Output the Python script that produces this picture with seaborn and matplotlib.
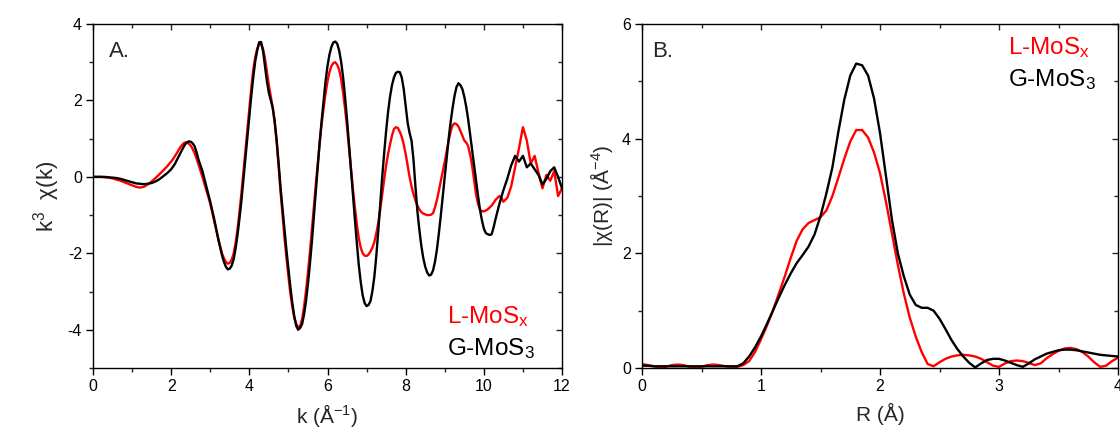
import numpy as np
import pandas as pd
import matplotlib
matplotlib.use("Agg")
import matplotlib.pyplot as plt
from matplotlib.ticker import MultipleLocator
import seaborn as sns

# ---- data ----
# sample positions in k: coarse at the ends, finer through the oscillations
k_vals = ([round(0.1 * i, 2) for i in range(20)]
          + [round(2.0 + 0.05 * i, 2) for i in range(171)]
          + [round(10.6 + 0.1 * i, 2) for i in range(15)])

k3chi_G = [
    0.00, 0.00, 0.00, 0.00, -0.01, -0.02, -0.03, -0.05, -0.08, -0.11,
    -0.14, -0.17, -0.18, -0.19, -0.18, -0.16, -0.12, -0.06, 0.02, 0.10,
    # 2.00 .. 10.50 step 0.05
    0.20, 0.27, 0.35, 0.45, 0.55, 0.65, 0.75, 0.84, 0.90, 0.93,
    0.92, 0.88, 0.80, 0.64, 0.45, 0.30, 0.15, -0.05, -0.25, -0.45,
    -0.65, -0.87, -1.10, -1.35, -1.60, -1.83, -2.05, -2.22, -2.35, -2.42,
    -2.40, -2.32, -2.15, -1.86, -1.50, -1.07, -0.60, -0.05, 0.50, 1.05,
    1.60, 2.12, 2.60, 3.02, 3.30, 3.52, 3.53, 3.30, 2.90, 2.50,
    2.20, 2.00, 1.80, 1.45, 0.95, 0.35, -0.30, -0.85, -1.40, -1.92,
    -2.40, -2.88, -3.30, -3.65, -3.90, -4.00, -3.95, -3.85, -3.60, -3.25,
    -2.80, -2.28, -1.70, -1.05, -0.40, 0.25, 0.90, 1.47, 2.00, 2.50,
    2.90, 3.20, 3.40, 3.52, 3.54, 3.48, 3.30, 3.00, 2.60, 2.08,
    1.50, 0.86, 0.20, -0.46, -1.10, -1.72, -2.30, -2.75, -3.10, -3.30,
    -3.38, -3.35, -3.25, -2.98, -2.60, -2.05, -1.40, -0.70, 0.00, 0.62,
    1.20, 1.70, 2.10, 2.40, 2.60, 2.72, 2.75, 2.74, 2.60, 2.30,
    1.85, 1.42, 1.15, 0.95, 0.45, -0.25, -0.90, -1.38, -1.80, -2.12,
    -2.35, -2.50, -2.58, -2.56, -2.45, -2.22, -1.90, -1.47, -1.00, -0.50,
    0.00, 0.50, 1.00, 1.43, 1.80, 2.12, 2.35, 2.45, 2.40, 2.30,
    2.10, 1.83, 1.50, 1.10, 0.70, 0.30, -0.10, -0.48, -0.85, -1.13,
    -1.35, -1.47, -1.50, -1.52, -1.50, -1.32, -1.10, -0.90, -0.70, -0.52,
    -0.35,
    # 10.6 .. 12.0 step 0.1
    -0.05, 0.30, 0.55, 0.40, 0.55, 0.25, 0.35, 0.20, 0.05, -0.20,
    -0.05, 0.15, 0.25, 0.00, -0.30]

k3chi_L = [
    0.00, 0.00, 0.00, -0.01, -0.02, -0.04, -0.07, -0.10, -0.14, -0.18,
    -0.22, -0.26, -0.28, -0.26, -0.20, -0.12, -0.03, 0.07, 0.17, 0.28,
    # 2.00 .. 10.50 step 0.05
    0.40, 0.47, 0.55, 0.63, 0.72, 0.80, 0.86, 0.90, 0.90, 0.87,
    0.82, 0.73, 0.62, 0.48, 0.32, 0.16, 0.00, -0.17, -0.35, -0.52,
    -0.70, -0.92, -1.15, -1.38, -1.60, -1.81, -2.00, -2.13, -2.22, -2.27,
    -2.25, -2.16, -2.00, -1.72, -1.35, -0.90, -0.40, 0.15, 0.70, 1.25,
    1.80, 2.33, 2.80, 3.12, 3.35, 3.47, 3.48, 3.35, 3.10, 2.75,
    2.40, 2.10, 1.80, 1.40, 0.90, 0.27, -0.40, -1.00, -1.60, -2.12,
    -2.60, -3.05, -3.40, -3.68, -3.85, -3.93, -3.90, -3.72, -3.40, -2.98,
    -2.50, -1.97, -1.40, -0.80, -0.20, 0.36, 0.90, 1.38, 1.80, 2.18,
    2.50, 2.74, 2.90, 2.98, 3.00, 2.93, 2.80, 2.55, 2.20, 1.78,
    1.30, 0.76, 0.20, -0.32, -0.80, -1.23, -1.60, -1.85, -2.00, -2.06,
    -2.07, -2.03, -1.95, -1.85, -1.70, -1.47, -1.20, -0.85, -0.45, -0.07,
    0.30, 0.60, 0.85, 1.08, 1.25, 1.30, 1.28, 1.18, 1.05, 0.85,
    0.60, 0.30, 0.00, -0.25, -0.45, -0.62, -0.75, -0.85, -0.92, -0.96,
    -0.98, -1.00, -1.00, -0.99, -0.95, -0.80, -0.60, -0.36, -0.10, 0.15,
    0.40, 0.68, 0.95, 1.18, 1.35, 1.40, 1.38, 1.32, 1.20, 1.08,
    0.95, 0.90, 0.80, 0.58, 0.30, -0.08, -0.45, -0.70, -0.85, -0.90,
    -0.90, -0.88, -0.85, -0.80, -0.75, -0.68, -0.60, -0.55, -0.50, -0.55,
    -0.65,
    # 10.6 .. 12.0 step 0.1
    -0.55, -0.25, 0.25, 0.75, 1.30, 0.95, 0.35, 0.55, 0.10, -0.30,
    0.05, -0.10, 0.15, -0.50, -0.30]

R_vals = [round(0.05 * i, 2) for i in range(81)]
chiR_G = [
    0.04, 0.04, 0.03, 0.03, 0.03, 0.03, 0.03, 0.03, 0.03, 0.03,
    0.03, 0.03, 0.03, 0.03, 0.03, 0.03, 0.03, 0.08, 0.20, 0.36,
    0.55, 0.77, 1.00, 1.23, 1.45, 1.65, 1.83, 1.97, 2.12, 2.33,
    2.65, 3.05, 3.50, 4.12, 4.68, 5.10, 5.31, 5.28, 5.10, 4.70,
    4.10, 3.35, 2.59, 2.00, 1.60, 1.28, 1.10, 1.05, 1.05, 1.00,
    0.86, 0.68, 0.49, 0.33, 0.20, 0.09, 0.01, 0.08, 0.14, 0.16,
    0.16, 0.13, 0.09, 0.05, 0.02, 0.08, 0.15, 0.20, 0.25, 0.28,
    0.31, 0.32, 0.32, 0.31, 0.29, 0.27, 0.25, 0.23, 0.22, 0.21, 0.20]
chiR_L = [
    0.07, 0.05, 0.03, 0.01, 0.02, 0.05, 0.06, 0.05, 0.02, 0.01,
    0.02, 0.05, 0.06, 0.05, 0.03, 0.02, 0.02, 0.05, 0.12, 0.28,
    0.50, 0.74, 1.00, 1.30, 1.60, 1.92, 2.22, 2.42, 2.53, 2.58,
    2.63, 2.75, 3.00, 3.32, 3.65, 3.95, 4.15, 4.15, 4.02, 3.76,
    3.40, 2.90, 2.35, 1.80, 1.30, 0.88, 0.55, 0.28, 0.07, 0.03,
    0.10, 0.16, 0.20, 0.22, 0.23, 0.22, 0.20, 0.16, 0.10, 0.04,
    0.02, 0.08, 0.12, 0.13, 0.12, 0.09, 0.05, 0.08, 0.17, 0.24,
    0.30, 0.34, 0.35, 0.33, 0.28, 0.20, 0.10, 0.02, 0.04, 0.12, 0.18]

series_names = ["L-MoSx", "G-MoS3"]
series_colors = ["#ff0000", "#000000"]

df_k = pd.DataFrame({
    "k": k_vals + k_vals,
    "y": k3chi_L + k3chi_G,
    "sample": [series_names[0]] * len(k_vals) + [series_names[1]] * len(k_vals),
})
df_R = pd.DataFrame({
    "R": R_vals + R_vals,
    "y": chiR_L + chiR_G,
    "sample": [series_names[0]] * len(R_vals) + [series_names[1]] * len(R_vals),
})

# ---- style ----
sns.set_style("ticks")
plt.rcParams["font.family"] = ["Liberation Sans", "DejaVu Sans"]
plt.rcParams["mathtext.fontset"] = "custom"
plt.rcParams["mathtext.rm"] = "Liberation Sans"
plt.rcParams["mathtext.it"] = "Liberation Sans:italic"
plt.rcParams["axes.linewidth"] = 1.0
plt.rcParams["axes.unicode_minus"] = False

fig = plt.figure(figsize=(11.2, 4.41), dpi=100)
ax1 = fig.add_axes([93 / 1120, 1 - 368 / 441, (562 - 93) / 1120, (368 - 24) / 441])
ax2 = fig.add_axes([642 / 1120, 1 - 368 / 441, (1118 - 642) / 1120, (368 - 24) / 441])

pal = dict(zip(series_names, series_colors))
sns.lineplot(data=df_k, x="k", y="y", hue="sample", palette=pal, ax=ax1,
             estimator=None, sort=False, linewidth=1.7, legend=False)
sns.lineplot(data=df_R, x="R", y="y", hue="sample", palette=pal, ax=ax2,
             estimator=None, sort=False, linewidth=1.7, legend=False)


def style_axes(ax, xlim, ylim, xmaj, xmin, ymaj, ymin):
    ax.set_xlim(*xlim)
    ax.set_ylim(*ylim)
    ax.xaxis.set_major_locator(MultipleLocator(xmaj))
    ax.xaxis.set_minor_locator(MultipleLocator(xmin))
    ax.yaxis.set_major_locator(MultipleLocator(ymaj))
    ax.yaxis.set_minor_locator(MultipleLocator(ymin))
    for s in ax.spines.values():
        s.set_visible(True)
        s.set_color("black")
    ax.tick_params(which="major", direction="out", length=5, width=1, labelsize=11.5,
                   colors="black", pad=3)
    ax.tick_params(which="minor", direction="out", length=3, width=1)
    top = ax.secondary_xaxis("top")
    top.xaxis.set_major_locator(MultipleLocator(xmaj))
    top.xaxis.set_minor_locator(MultipleLocator(xmin))
    top.tick_params(which="both", direction="in", labeltop=False)
    top.tick_params(which="major", length=4, width=1)
    top.tick_params(which="minor", length=3, width=1)
    top.spines["top"].set_visible(False)
    right = ax.secondary_yaxis("right")
    right.yaxis.set_major_locator(MultipleLocator(ymaj))
    right.yaxis.set_minor_locator(MultipleLocator(ymin))
    right.tick_params(which="both", direction="in", labelright=False)
    right.tick_params(which="major", length=4, width=1)
    right.tick_params(which="minor", length=3, width=1)
    right.spines["right"].set_visible(False)


style_axes(ax1, (0, 12), (-5, 4), 2, 1, 2, 1)
style_axes(ax2, (0, 4), (0, 6), 1, 0.5, 2, 1)

ax1.set_xlabel("k (Å$^{\\mathregular{-1}}$)", fontsize=15, labelpad=6)
ax1.set_ylabel("k$^{3}$  χ(k)", fontsize=16, labelpad=4)
ax2.set_xlabel("R (Å)", fontsize=15, labelpad=6)
ax2.set_ylabel("|χ(R)| (Å$^{\\mathregular{-4}}$)", fontsize=15, labelpad=5)

ax1.text(0.035, 0.92, "A.", transform=ax1.transAxes, fontsize=16, va="center", ha="left")
ax2.text(0.022, 0.92, "B.", transform=ax2.transAxes, fontsize=16, va="center", ha="left")

# in-plot labels in series colours
ax1.text((447 - 93) / 469, (368 - 317) / 344, "L-MoS$_\\mathregular{x}$", color=series_colors[0],
         transform=ax1.transAxes, fontsize=17.5, va="center", ha="left")
ax1.text((447 - 93) / 469, (368 - 349) / 344, "G-MoS$_\\mathregular{3}$", color=series_colors[1],
         transform=ax1.transAxes, fontsize=17.5, va="center", ha="left")
ax2.text((1008 - 642) / 476, (368 - 48) / 344, "L-MoS$_\\mathregular{x}$", color=series_colors[0],
         transform=ax2.transAxes, fontsize=17.5, va="center", ha="left")
ax2.text((1008 - 642) / 476, (368 - 80) / 344, "G-MoS$_\\mathregular{3}$", color=series_colors[1],
         transform=ax2.transAxes, fontsize=17.5, va="center", ha="left")

fig.savefig("out.png", dpi=100)
